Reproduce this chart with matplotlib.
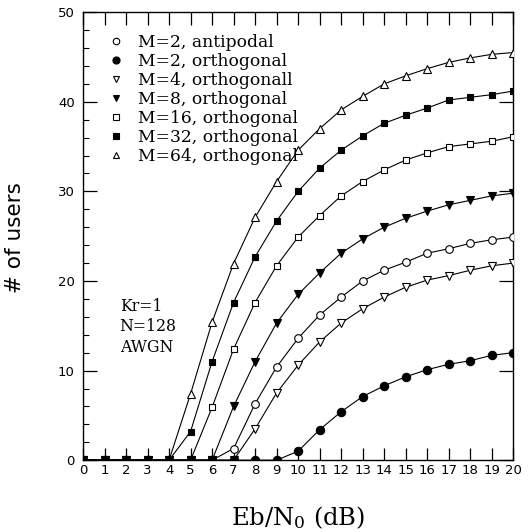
import numpy as np
import matplotlib
matplotlib.use("Agg")
import matplotlib.pyplot as plt
from matplotlib.lines import Line2D
from matplotlib.ticker import MultipleLocator

plt.rcParams["mathtext.fontset"] = "dejavuserif"

# Eb/N0 in dB
EBN0 = list(range(21))

# number of users for each scheme
M2_ANTI = [0, 0, 0, 0, 0, 0, 0, 1.3, 6.3, 10.4, 13.6, 16.2, 18.2, 20.0, 21.2,
           22.1, 23.1, 23.6, 24.2, 24.6, 24.9]
M2_ORTH = [0, 0, 0, 0, 0, 0, 0, 0, 0, 0, 1.0, 3.4, 5.4, 7.1, 8.3,
           9.3, 10.1, 10.7, 11.1, 11.7, 12.0]
M4_ORTH = [0, 0, 0, 0, 0, 0, 0, 0, 3.5, 7.5, 10.6, 13.2, 15.3, 16.9, 18.2,
           19.3, 20.1, 20.6, 21.2, 21.7, 22.0]
M8_ORTH = [0, 0, 0, 0, 0, 0, 0, 6.0, 11.0, 15.3, 18.5, 20.9, 23.1, 24.7, 26.0,
           27.0, 27.8, 28.5, 29.0, 29.5, 29.8]
M16_ORTH = [0, 0, 0, 0, 0, 0, 5.9, 12.4, 17.6, 21.7, 24.9, 27.3, 29.5, 31.1, 32.4,
            33.5, 34.3, 35.0, 35.3, 35.6, 36.1]
M32_ORTH = [0, 0, 0, 0, 0, 3.2, 11.0, 17.6, 22.7, 26.7, 30.0, 32.6, 34.6, 36.2, 37.6,
            38.5, 39.3, 40.2, 40.5, 40.8, 41.2]
M64_ORTH = [0, 0, 0, 0, 0, 7.4, 15.4, 21.95, 27.1, 31.1, 34.6, 37.0, 39.1, 40.6, 42.0,
            42.9, 43.7, 44.4, 44.9, 45.3, 45.5]

LABELS = ["M=2, antipodal", "M=2, orthogonal", "M=4, orthogonall",
          "M=8, orthogonal", "M=16, orthogonal", "M=32, orthogonal",
          "M=64, orthogonal"]

# (series, marker, filled, size)
SERIES = [
    (M2_ANTI, "o", False, 5.5),
    (M2_ORTH, "o", True, 6.0),
    (M4_ORTH, "v", False, 5.5),
    (M8_ORTH, "v", True, 5.5),
    (M16_ORTH, "s", False, 5.0),
    (M32_ORTH, "s", True, 5.0),
    (M64_ORTH, "^", False, 5.5),
]

fig = plt.figure(figsize=(5.29, 5.32), dpi=100)
ax = fig.add_axes([0.157, 0.135, 0.813, 0.842])

# draw the filled-circle series last so it sits on top of the zeros
order = [0, 2, 3, 4, 5, 6, 1]
for k in order:
    vals, mk, filled, ms = SERIES[k]
    ax.plot(EBN0, vals, color="black", lw=0.8, marker=mk, ms=ms,
            mfc="black" if filled else "white", mec="black", mew=0.8,
            zorder=3 + (k == 1))

handles = [Line2D([], [], ls="none", marker=mk, ms=ms * 0.85,
                  mfc="black" if filled else "white", mec="black", mew=0.8)
           for (_, mk, filled, ms) in SERIES]
ax.legend(handles, LABELS, loc="upper left", bbox_to_anchor=(0.049, 0.967),
          frameon=False, handlelength=0.6, handletextpad=1.0,
          labelspacing=0.12, borderaxespad=0,
          prop={"family": "DejaVu Serif", "size": 12.3})

ax.text(0.085, 0.362, "Kr=1\nN=128\nAWGN", transform=ax.transAxes,
        family="DejaVu Serif", fontsize=11.3, va="top", ha="left",
        linespacing=1.25)

ax.set_xlim(0, 20)
ax.set_ylim(0, 50)
ax.xaxis.set_major_locator(MultipleLocator(1))
ax.yaxis.set_major_locator(MultipleLocator(10))
ax.yaxis.set_minor_locator(MultipleLocator(2))
ax.tick_params(axis="x", which="major", direction="in", top=True,
               length=9, width=0.9, labelsize=9.5, pad=3)
ax.tick_params(axis="y", which="major", direction="in", right=True,
               length=10, width=0.9, labelsize=9.5, pad=6)
ax.tick_params(axis="y", which="minor", direction="in", right=False,
               length=4.5, width=0.8)
for sp in ax.spines.values():
    sp.set_linewidth(1.0)

ax.set_ylabel("# of users", fontsize=15.5)
ax.yaxis.set_label_coords(-0.135, 0.498)
ax.set_xlabel(r"Eb/N$_0$ (dB)", family="DejaVu Serif", fontsize=17.5)
ax.xaxis.set_label_coords(0.5, -0.098)

fig.savefig("out.png", dpi=100)
